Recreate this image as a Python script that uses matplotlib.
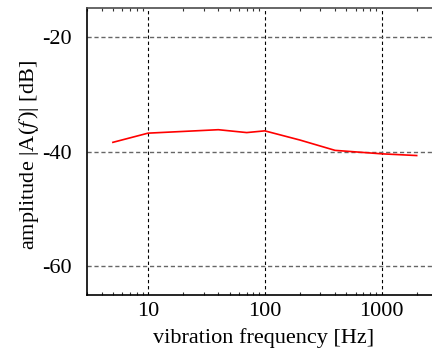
import matplotlib
matplotlib.use("Agg")
import matplotlib.pyplot as plt
from matplotlib.ticker import LogLocator, NullFormatter

plt.rcParams['font.family'] = ['Liberation Serif', 'DejaVu Serif']
plt.rcParams['mathtext.fontset'] = 'stix'

freq_hz = [5, 10, 20, 40, 70, 100, 200, 400, 1000, 2000]
amplitude_db = [-38.4, -36.8, -36.5, -36.2, -36.7, -36.4, -38.0, -39.8, -40.4, -40.7]
xtick_vals = [10, 100, 1000]
xtick_labels = ['10', '100', '1000']
ytick_vals = [-60, -40, -20]
ytick_labels = ['-60', '-40', '-20']

fig = plt.figure(figsize=(4.32, 3.49), dpi=100)
ax = fig.add_axes([0.2014, 0.1547, 0.819, 0.8223])
ax.plot(freq_hz, amplitude_db, color='red', lw=1.2)
ax.set_xscale('log')
ax.set_xlim(3, 3220)
ax.set_ylim(-65, -15)
ax.set_xticks(xtick_vals)
ax.set_xticklabels(xtick_labels)
ax.xaxis.set_minor_locator(LogLocator(base=10, subs=range(2, 10), numticks=20))
ax.xaxis.set_minor_formatter(NullFormatter())
ax.set_yticks(ytick_vals)
ax.set_yticklabels(ytick_labels)
ax.tick_params(which='both', direction='in', top=True, right=False, labelsize=16)
ax.tick_params(axis='x', which='major', length=0, pad=5)
ax.tick_params(axis='y', which='major', length=0, pad=11)
ax.tick_params(which='minor', length=2, width=0.8, color='0.2')
ax.grid(axis='x', which='major', color='black', linestyle=(0, (3, 2.5)), lw=0.8)
ax.grid(axis='y', which='major', color='0.4', linestyle=(0, (3, 2)), lw=1.0)
for s in ax.spines.values():
    s.set_linewidth(1.2)
ax.spines['top'].set_color('0.3')
ax.set_xlabel('vibration frequency [Hz]', fontsize=16, labelpad=5)
ax.set_ylabel(r'amplitude |A($f\,$)| [dB]', fontsize=16)
ax.yaxis.set_label_coords(-0.13, 0.488)
fig.savefig('out.png', dpi=100)
